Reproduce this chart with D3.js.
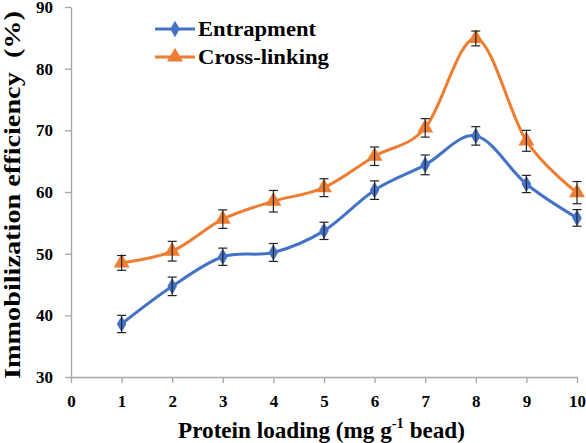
<!DOCTYPE html>
<html><head><meta charset="utf-8">
<script src="https://cdn.jsdelivr.net/npm/d3@7"></script>
<style>body{margin:0;background:#fff}svg{display:block}</style>
</head><body>
<script>
const loading = [1,2,3,4,5,6,7,8,9,10];
const entrapment = [38.6,44.7,49.5,50.2,53.7,60.3,64.4,69.1,61.3,55.8];
const entrapmentErr = [1.4,1.5,1.4,1.45,1.4,1.5,1.6,1.5,1.4,1.35];
const crosslinking = [48.5,50.4,55.6,58.5,60.7,65.8,70.4,84.9,68.3,59.9];
const crosslinkingErr = [1.2,1.6,1.5,1.75,1.45,1.5,1.5,1.2,1.7,1.8];
const xTicks = [0,1,2,3,4,5,6,7,8,9,10];
const yTicks = [30,40,50,60,70,80,90];

const W=586,H=443;
const svg=d3.select("body").append("svg").attr("width",W).attr("height",H);
const x=d3.scaleLinear().domain([0,10]).range([71,577]);
const y=d3.scaleLinear().domain([30,90]).range([377,7]);
const font="'Liberation Serif','Times New Roman',serif";
const axisColor="#a6a6a6";

// axes
const xa=svg.append("g").attr("transform","translate(0,377)")
  .call(d3.axisBottom(x).tickValues(xTicks).tickSize(6).tickSizeOuter(0).tickPadding(12));
const ya=svg.append("g").attr("transform","translate(71,0)")
  .call(d3.axisLeft(y).tickValues(yTicks).tickSize(6).tickSizeOuter(0).tickPadding(12));
[xa,ya].forEach(a=>{
  a.selectAll("path,line").attr("stroke",axisColor).attr("stroke-width",1.3);
  a.selectAll("text").attr("font-family",font).attr("font-weight","bold").attr("font-size",17).attr("fill","#000");
});

const series=[
  {name:"Entrapment",vals:entrapment,err:entrapmentErr,color:"#4472C4",marker:d3.symbolDiamond,size:80,lw:118},
  {name:"Cross-linking",vals:crosslinking,err:crosslinkingErr,color:"#ED7D31",marker:d3.symbolTriangle,size:110,lw:131}
];
const line=d3.line().curve(d3.curveCatmullRom.alpha(0)).x((d,i)=>x(loading[i])).y(d=>y(d));
series.forEach(s=>{
  svg.append("path").datum(s.vals).attr("d",line).attr("fill","none").attr("stroke",s.color).attr("stroke-width",3);
});
series.forEach(s=>{
  const g=svg.append("g");
  g.selectAll("path.m").data(s.vals).join("path")
    .attr("d",d3.symbol().type(s.marker).size(s.size))
    .attr("transform",(d,i)=>`translate(${x(loading[i])},${y(d)})`)
    .attr("fill",s.color);
  const eb=svg.append("g").attr("stroke","#222").attr("stroke-width",1.2);
  s.vals.forEach((v,i)=>{
    const cx=x(loading[i]),y1=y(v+s.err[i]),y2=y(v-s.err[i]);
    eb.append("line").attr("x1",cx).attr("x2",cx).attr("y1",y1).attr("y2",y2);
    eb.append("line").attr("x1",cx-4.5).attr("x2",cx+4.5).attr("y1",y1).attr("y2",y1);
    eb.append("line").attr("x1",cx-4.5).attr("x2",cx+4.5).attr("y1",y2).attr("y2",y2);
  });
});

// legend
series.forEach((s,i)=>{
  const ly=[29,57][i];
  svg.append("line").attr("x1",155).attr("x2",195).attr("y1",ly).attr("y2",ly).attr("stroke",s.color).attr("stroke-width",3);
  svg.append("path").attr("d",d3.symbol().type(s.marker).size(s.size)).attr("transform",`translate(175,${ly})`).attr("fill",s.color);
  svg.append("text").attr("x",198).attr("y",ly+7).text(s.name)
    .attr("textLength",s.lw).attr("lengthAdjust","spacingAndGlyphs")
    .attr("font-family",font).attr("font-weight","bold").attr("font-size",21.5).attr("fill","#000");
});

// axis titles
const xt=svg.append("text").attr("transform","translate(321.5,438) scale(0.965,1)").attr("text-anchor","middle")
  .attr("font-family",font).attr("font-weight","bold").attr("font-size",24);
xt.append("tspan").text("Protein loading (mg g");
xt.append("tspan").text("-1").attr("font-size",15).attr("dy",-10);
xt.append("tspan").text(" bead)").attr("dy",10);
svg.append("text").attr("transform","translate(20,195) rotate(-90)").attr("text-anchor","middle")
  .attr("font-family",font).attr("font-weight","bold").attr("font-size",24)
  .attr("textLength",368).attr("lengthAdjust","spacingAndGlyphs")
  .style("white-space","pre")
  .text("Immobilization efficiency  (%)");
</script>
</body></html>
